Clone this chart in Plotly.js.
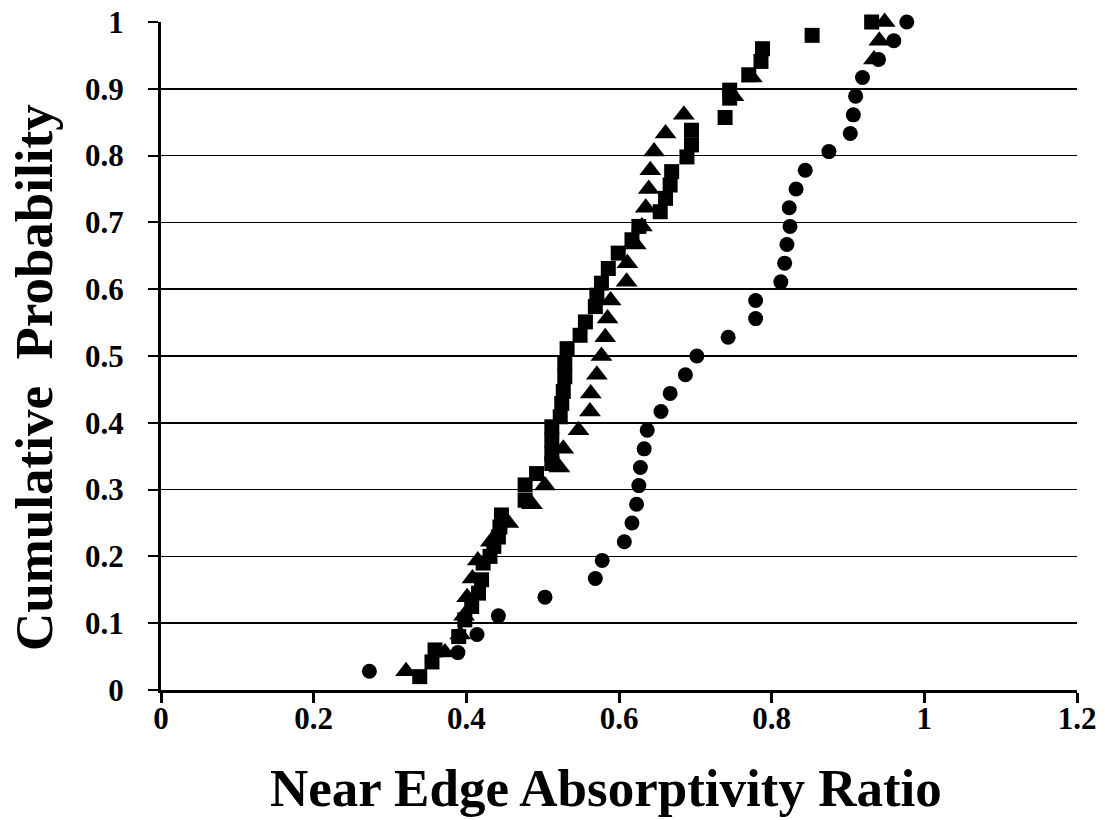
<!DOCTYPE html>
<html>
<head>
<meta charset="utf-8">
<script src="https://cdn.plot.ly/plotly-3.0.1.min.js"></script>
<style>html,body{margin:0;padding:0;background:#fff;}#chart{width:1105px;height:820px;}</style>
</head>
<body>
<div id="chart"></div>
<script>
// Squares series
const squareX = [0.339,0.355,0.359,0.390,0.398,0.407,0.416,0.420,0.422,0.431,0.436,0.442,0.444,0.446,0.477,0.477,0.492,0.512,0.512,0.512,0.512,0.523,0.525,0.527,0.529,0.529,0.532,0.549,0.556,0.569,0.571,0.577,0.586,0.599,0.617,0.626,0.654,0.661,0.667,0.669,0.689,0.695,0.695,0.739,0.745,0.745,0.770,0.786,0.788,0.853,0.931];
const squareY = [0.020,0.042,0.060,0.080,0.105,0.125,0.145,0.165,0.190,0.200,0.215,0.229,0.244,0.262,0.284,0.307,0.324,0.339,0.354,0.374,0.394,0.409,0.429,0.447,0.469,0.489,0.511,0.531,0.551,0.574,0.591,0.609,0.631,0.654,0.674,0.694,0.716,0.736,0.756,0.776,0.798,0.816,0.838,0.857,0.886,0.898,0.921,0.941,0.960,0.980,1.000];
// Triangles series
const triX = [0.321,0.372,0.392,0.397,0.401,0.408,0.415,0.432,0.455,0.486,0.503,0.522,0.527,0.547,0.562,0.563,0.571,0.577,0.582,0.585,0.589,0.610,0.611,0.622,0.630,0.635,0.639,0.641,0.646,0.661,0.685,0.750,0.774,0.934,0.941,0.948];
const triY = [0.028,0.056,0.083,0.111,0.139,0.167,0.194,0.222,0.250,0.278,0.306,0.333,0.361,0.389,0.417,0.444,0.472,0.500,0.528,0.556,0.583,0.611,0.639,0.667,0.694,0.722,0.750,0.778,0.806,0.833,0.861,0.889,0.917,0.944,0.972,1.000];
// Circles series
const circX = [0.273,0.389,0.414,0.442,0.503,0.569,0.578,0.607,0.617,0.623,0.626,0.628,0.633,0.637,0.655,0.667,0.687,0.702,0.743,0.779,0.779,0.812,0.817,0.820,0.824,0.823,0.832,0.844,0.875,0.903,0.907,0.910,0.919,0.940,0.960,0.977];
const circY = [0.028,0.056,0.083,0.111,0.139,0.167,0.194,0.222,0.250,0.278,0.306,0.333,0.361,0.389,0.417,0.444,0.472,0.500,0.528,0.556,0.583,0.611,0.639,0.667,0.694,0.722,0.750,0.778,0.806,0.833,0.861,0.889,0.917,0.944,0.972,1.000];

const xTicks = [0,0.2,0.4,0.6,0.8,1,1.2];
const xTickText = ['0','0.2','0.4','0.6','0.8','1','1.2'];
const yTicks = [0,0.1,0.2,0.3,0.4,0.5,0.6,0.7,0.8,0.9,1];
const yTickText = ['0','0.1','0.2','0.3','0.4','0.5','0.6','0.7','0.8','0.9','1'];
const xTitle = 'Near Edge Absorptivity Ratio';
const yTitle = 'Cumulative  Probability';

const serif = '"Liberation Serif", "Times New Roman", serif';

const traces = [
  {x: circX, y: circY, type:'scatter', mode:'markers', name:'circles',
   marker:{symbol:'circle', size:15, color:'#000'}, cliponaxis:false},
  {x: squareX, y: squareY, type:'scatter', mode:'markers', name:'squares',
   marker:{symbol:'square', size:15, color:'#000'}, cliponaxis:false},
  {x: triX, y: triY, type:'scatter', mode:'markers', name:'triangles',
   marker:{symbol:'triangle-up', size:19, color:'#000'}, cliponaxis:false}
];

const layout = {
  width:1105, height:820,
  margin:{l:161, r:28, t:22, b:130},
  paper_bgcolor:'#fff', plot_bgcolor:'#fff',
  showlegend:false,
  font:{family:serif, color:'#000'},
  xaxis:{
    range:[0,1.2], tickvals:xTicks, ticktext:xTickText,
    showgrid:false, zeroline:false,
    showline:true, linecolor:'#000', linewidth:3,
    ticks:'outside', ticklen:10, tickwidth:3, tickcolor:'#000',
    tickfont:{family:serif, size:31, color:'#000', weight:'bold'},
    ticklabelstandoff:-11
  },
  yaxis:{
    range:[0,1], tickvals:yTicks, ticktext:yTickText,
    showgrid:true, gridcolor:'#000', gridwidth:1.5,
    zeroline:false,
    showline:true, linecolor:'#000', linewidth:3,
    ticks:'outside', ticklen:10, tickwidth:2, tickcolor:'#000',
    tickfont:{family:serif, size:31, color:'#000', weight:'bold'},
    ticklabelstandoff:18
  },
  annotations:[
    {text:'<b>'+xTitle+'</b>', xref:'paper', yref:'paper', x:(606 - 161) / 916, y:(690 - 788) / 668,
     xanchor:'center', yanchor:'middle', showarrow:false,
     font:{family:serif, size:53, color:'#000'}},
    {text:'<b>'+yTitle+'</b>', xref:'paper', yref:'paper', x:(34 - 161) / 916, y:0.467,
     xanchor:'center', yanchor:'middle', showarrow:false, textangle:-90,
     font:{family:serif, size:53, color:'#000'}}
  ]
};

Plotly.newPlot('chart', traces, layout, {staticPlot:true, displayModeBar:false});
</script>
</body>
</html>
